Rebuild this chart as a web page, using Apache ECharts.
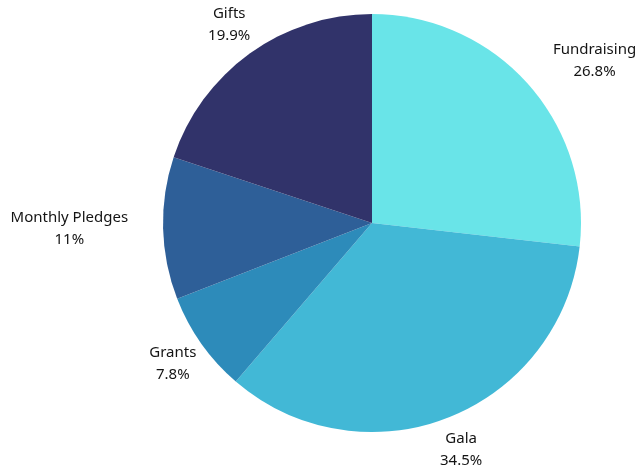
<!DOCTYPE html>
<html><head><meta charset="utf-8">
<script src="https://cdn.jsdelivr.net/npm/echarts@6/dist/echarts.min.js"></script>
<style>html,body{margin:0;padding:0;background:#fff}#c{width:640px;height:468px}</style>
</head><body><div id="c"></div>
<script>
const categories = ['Fundraising', 'Gala', 'Grants', 'Monthly Pledges', 'Gifts'];
const values = [26.8, 34.5, 7.8, 11, 19.9];
const colors = ['#69E4E8', '#42B8D6', '#2D8BBA', '#2E5F98', '#31336A'];

const CX = 372, CY = 223, R = 209;
const total = values.reduce((a, b) => a + b, 0);
const mids = [];
let acc = 0;
values.forEach(v => { mids.push((acc + v / 2) / total * 2 * Math.PI); acc += v; });

const chart = echarts.init(document.getElementById('c'), null, {renderer: 'canvas'});
chart.setOption({
  animation: false,
  series: [{
    type: 'pie',
    center: [CX, CY],
    radius: R,
    startAngle: 90,
    clockwise: true,
    data: categories.map((c, i) => ({name: c, value: values[i], itemStyle: {color: colors[i]}})),
    itemStyle: {borderWidth: 0},
    emphasis: {disabled: true},
    label: {
      show: true,
      position: 'outside',
      formatter: p => p.name + '\n' + p.value + '%',
      fontFamily: 'Noto Sans',
      fontSize: 15,
      lineHeight: 22,
      color: '#141414',
      align: 'center'
    },
    labelLine: {show: false, length: 10, length2: 0},
    labelLayout: function (params) {
      const a = mids[params.dataIndex];
      const s = Math.sin(a), c = Math.cos(a);
      const w = params.labelRect.width / 2;
      const d = R + 35;
      let f = 0;
      if (c > -0.3) f = Math.min(1, Math.max(0, (Math.abs(s) - 0.6) / 0.15));
      return {
        x: CX + d * s + Math.sign(s) * w * f,
        y: CY - d * c,
        align: 'center',
        verticalAlign: 'middle'
      };
    }
  }]
});
</script></body></html>
